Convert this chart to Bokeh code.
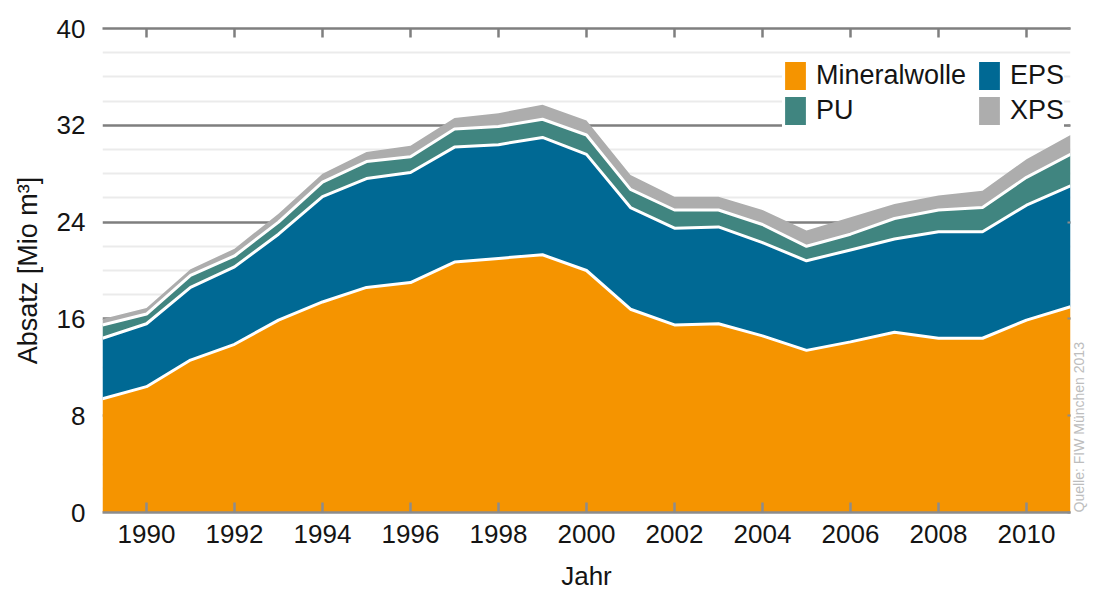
import math
from bokeh.plotting import figure
from bokeh.models import (ColumnDataSource, FixedTicker, LinearAxis, Legend,
                          LegendItem, Range1d)
from bokeh.embed import file_html
from bokeh.resources import INLINE

# ---- data (Mio m³) ----
years = list(range(1989, 2012))
mineralwolle = [9.4, 10.4, 12.6, 13.9, 15.9, 17.4, 18.6, 19.0, 20.7, 21.0, 21.3, 20.0,
                16.8, 15.5, 15.6, 14.6, 13.4, 14.1, 14.9, 14.4, 14.4, 15.9, 17.0]
eps = [5.0, 5.2, 6.0, 6.4, 7.1, 8.7, 9.0, 9.1, 9.5, 9.4, 9.7, 9.6,
       8.4, 8.0, 8.0, 7.7, 7.4, 7.6, 7.7, 8.8, 8.8, 9.5, 10.0]
pu = [1.1, 0.8, 1.0, 0.9, 1.0, 1.2, 1.4, 1.3, 1.5, 1.5, 1.5, 1.6,
      1.5, 1.5, 1.4, 1.5, 1.2, 1.3, 1.7, 1.8, 2.0, 2.3, 2.6]
xps = [0.5, 0.5, 0.5, 0.6, 0.7, 0.7, 0.8, 0.9, 0.9, 1.1, 1.2, 1.2,
       1.2, 1.1, 1.1, 1.2, 1.3, 1.4, 1.2, 1.2, 1.4, 1.5, 1.6]

series = ["Mineralwolle", "EPS", "PU", "XPS"]
colors = ["#f59400", "#006994", "#408580", "#adadad"]
legend_col1 = ["Mineralwolle", "PU"]
legend_col2 = ["EPS", "XPS"]
x_ticks = list(range(1990, 2011, 2))
y_ticks = [0, 8, 16, 24, 32, 40]
y_minor = [v for v in range(0, 41, 2) if v % 8]

FONT = "Liberation Sans"
TXT = "#141414"

src = ColumnDataSource(dict(year=years, Mineralwolle=mineralwolle, EPS=eps, PU=pu, XPS=xps))

p = figure(width=1097, height=595, x_range=Range1d(1989, 2011), y_range=Range1d(0, 40),
           output_backend="svg", toolbar_location=None,
           min_border_left=102, min_border_right=27, min_border_top=28, min_border_bottom=83)
p.outline_line_color = None
p.background_fill_color = "white"

areas = p.varea_stack(series, x="year", source=src, color=colors)
p.vline_stack(series[:3], x="year", source=src, line_color="white", line_width=3)

# grid
p.xgrid.grid_line_color = None
p.ygrid.ticker = FixedTicker(ticks=y_ticks, minor_ticks=y_minor)
p.ygrid.grid_line_color = "#7f7f7f"
p.ygrid.grid_line_width = 2.5
p.ygrid.minor_grid_line_color = "#ebebeb"
p.ygrid.minor_grid_line_width = 2

# bottom axis
xa = p.xaxis[0]
xa.ticker = FixedTicker(ticks=x_ticks)
xa.axis_label = "Jahr"
xa.axis_line_color = "#8c8c8c"
xa.axis_line_width = 2.5
xa.major_tick_line_color = "#8c8c8c"
xa.major_tick_line_width = 2.5
xa.major_tick_in = 10
xa.major_tick_out = 0
xa.minor_tick_line_color = None
xa.major_label_standoff = 12
xa.major_label_text_font = FONT
xa.major_label_text_font_size = "26px"
xa.major_label_text_color = TXT
xa.axis_label_text_font = FONT
xa.axis_label_text_font_size = "26px"
xa.axis_label_text_font_style = "normal"
xa.axis_label_text_color = TXT
xa.axis_label_standoff = 15

# left axis
ya = p.yaxis[0]
ya.ticker = FixedTicker(ticks=y_ticks, minor_ticks=y_minor)
ya.axis_label = "Absatz [Mio m³]"
ya.axis_line_color = None
ya.major_tick_line_color = None
ya.minor_tick_line_color = None
ya.major_tick_in = 0
ya.major_tick_out = 0
ya.major_label_standoff = 13
ya.major_label_text_font = FONT
ya.major_label_text_font_size = "26px"
ya.major_label_text_color = TXT
ya.axis_label_text_font = FONT
ya.axis_label_text_font_size = "27px"
ya.axis_label_text_font_style = "normal"
ya.axis_label_text_color = TXT
ya.axis_label_standoff = 11

# top axis (line at 40 with inward ticks)
top = LinearAxis(ticker=FixedTicker(ticks=x_ticks))
top.axis_line_color = "#7f7f7f"
top.axis_line_width = 2.5
top.major_tick_line_color = "#7f7f7f"
top.major_tick_line_width = 2.5
top.major_tick_in = 9
top.major_tick_out = 0
top.minor_tick_line_color = None
top.major_label_text_color = None
top.major_label_text_font_size = "1px"
top.major_label_standoff = 0
p.add_layout(top, "above")

# right axis (small inward ticks) carrying the source note
right = LinearAxis(ticker=FixedTicker(ticks=y_ticks))
right.axis_line_color = None
right.major_tick_line_color = "#8c8c8c"
right.major_tick_line_width = 2
right.major_tick_in = 3
right.major_tick_out = 0
right.minor_tick_line_color = None
right.major_label_text_color = None
right.major_label_text_font_size = "1px"
right.major_label_standoff = 0
right.axis_label = "Quelle: FIW München 2013"
right.axis_label_text_font = FONT
right.axis_label_text_font_size = "14px"
right.axis_label_text_font_style = "normal"
right.axis_label_text_color = "#bdbdbd"
right.axis_label_standoff = 8
try:
    right.axis_label_orientation = math.pi / 2
except Exception:
    pass
try:
    right.axis_label_align = "start"
except Exception:
    pass
p.add_layout(right, "right")

# legend: two single-column legends side by side
rmap = dict(zip(series, areas))
legend_style = dict(margin=0, padding=6, spacing=0, label_standoff=8,
                    glyph_width=26, glyph_height=35, label_height=35,
                    label_text_font=FONT, label_text_font_size="27px",
                    label_text_color=TXT, label_text_baseline="middle",
                    background_fill_color="white", background_fill_alpha=1.0,
                    border_line_color=None)
leg1 = Legend(items=[LegendItem(label=s, renderers=[rmap[s]]) for s in legend_col1],
              location=(680, 384), label_width=175, **legend_style)
leg2 = Legend(items=[LegendItem(label=s, renderers=[rmap[s]]) for s in legend_col2],
              location=(874, 384), **legend_style)
p.add_layout(leg1)
p.add_layout(leg2)

open("out.html", "w").write(file_html(p, INLINE))
